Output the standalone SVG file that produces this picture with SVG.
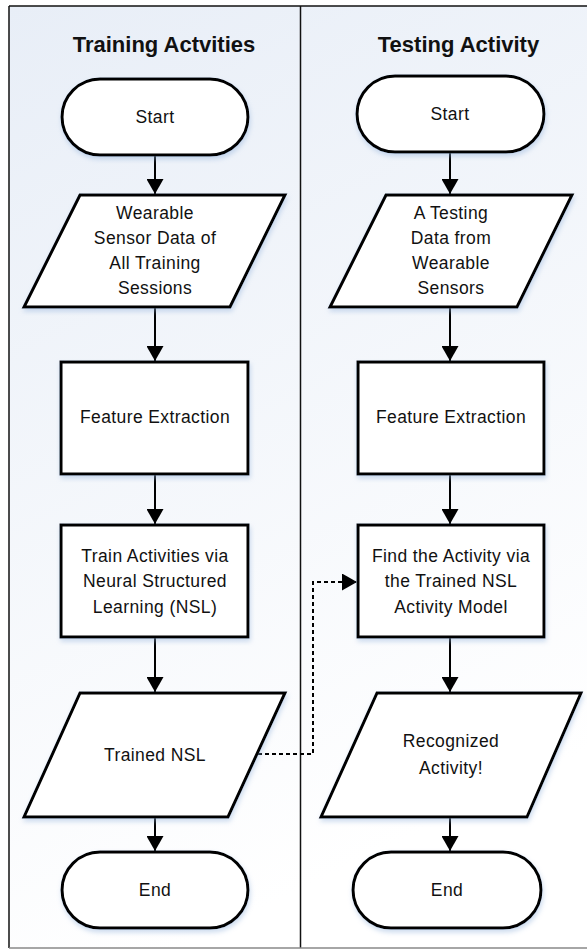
<svg xmlns="http://www.w3.org/2000/svg" width="587" height="950" viewBox="0 0 587 950">
<defs>
<linearGradient id="bg" x1="0" y1="0" x2="0.3" y2="1">
<stop offset="0" stop-color="#e8eef7"/>
<stop offset="1" stop-color="#ffffff"/>
</linearGradient>
<filter id="sh" x="-20%" y="-20%" width="140%" height="150%">
<feDropShadow dx="1" dy="3" stdDeviation="2.5" flood-color="#8fb0da" flood-opacity="0.45"/>
</filter>
<marker id="ah" markerUnits="userSpaceOnUse" markerWidth="16" markerHeight="17" refX="15" refY="8.5" orient="auto">
<path d="M0,0 L15,8.5 L0,17 z" fill="#000"/>
</marker>
</defs>
<style>
.shape{fill:#fff;stroke:#000;stroke-width:3;filter:url(#sh)}
.lbl{font-family:"Liberation Sans",Arial,sans-serif;font-size:17.5px;letter-spacing:0.4px;fill:#111;text-anchor:middle}
.title{font-family:"Liberation Sans",Arial,sans-serif;font-size:22px;font-weight:bold;fill:#111;text-anchor:middle}
.conn{fill:none;stroke:#000;stroke-width:2;marker-end:url(#ah)}
.dash{fill:none;stroke:#000;stroke-width:2;stroke-dasharray:4,3;marker-end:url(#ah)}
.lane{fill:none;stroke:#111;stroke-width:1.5}
</style>
<rect x="0" y="0" width="587" height="950" fill="#fff"/>
<g id="lanes">
<rect x="9" y="6" width="580" height="942" fill="url(#bg)"/>
<line class="lane" x1="9" y1="6" x2="587" y2="6"/>
<line class="lane" x1="9" y1="6" x2="9" y2="948"/>
<line class="lane" x1="300.5" y1="6" x2="300.5" y2="948"/>
<line x1="9" y1="948" x2="587" y2="948" stroke="#888" stroke-width="1.5"/>
<text class="title" x="164" y="52">Training Actvities</text>
<text class="title" x="458.5" y="52">Testing Activity</text>
</g>
<g id="connectors">
<line class="conn" x1="155" y1="155" x2="155" y2="194"/>
<line class="conn" x1="155" y1="307" x2="155" y2="361"/>
<line class="conn" x1="155" y1="474" x2="155" y2="524"/>
<line class="conn" x1="155" y1="637" x2="155" y2="692"/>
<line class="conn" x1="155" y1="817" x2="155" y2="851"/>
<line class="conn" x1="450" y1="152" x2="450" y2="194"/>
<line class="conn" x1="450" y1="307" x2="450" y2="361"/>
<line class="conn" x1="450" y1="474" x2="450" y2="524"/>
<line class="conn" x1="450" y1="637" x2="450" y2="692"/>
<line class="conn" x1="450" y1="817" x2="450" y2="851"/>
<path class="dash" d="M258,754 L313,754 L313,582 L357,582"/>
</g>
<g id="start1">
<rect class="shape" x="62" y="79" width="186" height="76" rx="38"/>
<text class="lbl" x="155" y="123">Start</text>
</g>
<g id="data1">
<polygon class="shape" points="80,195 285,195 230,307 24,307"/>
<text class="lbl" x="155" y="219">Wearable</text>
<text class="lbl" x="155" y="244">Sensor Data of</text>
<text class="lbl" x="155" y="269">All Training</text>
<text class="lbl" x="155" y="294">Sessions</text>
</g>
<g id="feat1">
<rect class="shape" x="61" y="362" width="187" height="112"/>
<text class="lbl" x="155" y="423">Feature Extraction</text>
</g>
<g id="train">
<rect class="shape" x="61" y="525" width="187" height="112"/>
<text class="lbl" x="155" y="562">Train Activities via</text>
<text class="lbl" x="155" y="587">Neural Structured</text>
<text class="lbl" x="155" y="613">Learning (NSL)</text>
</g>
<g id="trained">
<polygon class="shape" points="80,693 285,693 228,817 24,817"/>
<text class="lbl" x="155" y="761">Trained NSL</text>
</g>
<g id="end1">
<rect class="shape" x="62" y="852" width="186" height="76" rx="38"/>
<text class="lbl" x="155" y="896">End</text>
</g>
<g id="start2">
<rect class="shape" x="357" y="76" width="187" height="76" rx="38"/>
<text class="lbl" x="450" y="120">Start</text>
</g>
<g id="data2">
<polygon class="shape" points="386,195 572,195 517,307 330,307"/>
<text class="lbl" x="451" y="219">A Testing</text>
<text class="lbl" x="451" y="244">Data from</text>
<text class="lbl" x="451" y="269">Wearable</text>
<text class="lbl" x="451" y="294">Sensors</text>
</g>
<g id="feat2">
<rect class="shape" x="358" y="362" width="186" height="112"/>
<text class="lbl" x="451" y="423">Feature Extraction</text>
</g>
<g id="find">
<rect class="shape" x="358" y="525" width="186" height="112"/>
<text class="lbl" x="451" y="562">Find the Activity via</text>
<text class="lbl" x="451" y="587">the Trained NSL</text>
<text class="lbl" x="451" y="613">Activity Model</text>
</g>
<g id="recog">
<polygon class="shape" points="377,693 581,693 527,817 321,817"/>
<text class="lbl" x="451" y="747">Recognized</text>
<text class="lbl" x="451" y="774">Activity!</text>
</g>
<g id="end2">
<rect class="shape" x="353" y="852" width="188" height="76" rx="38"/>
<text class="lbl" x="447" y="896">End</text>
</g>
</svg>
